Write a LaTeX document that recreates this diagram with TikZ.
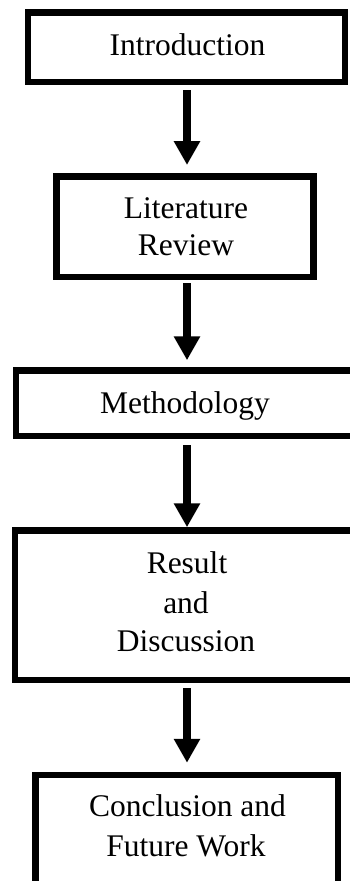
\documentclass[tikz,border=0pt]{standalone}
\usepackage{fontspec}
\setmainfont{Liberation Serif}
\usetikzlibrary{arrows.meta}
\begin{document}
\begin{tikzpicture}[x=1pt,y=1pt,
  box/.style={draw=black, line width=6.5pt, fill=none, inner sep=0pt, rectangle},
  lbl/.style={anchor=base, inner sep=0pt, font=\fontsize{31.5}{36}\selectfont},
  arr/.style={line width=8pt, -{Triangle[width=25pt,length=24pt]}}]
\useasboundingbox (0,0) rectangle (350,-881);
\clip (0,0) rectangle (350,-881);
\fill[white] (0,0) rectangle (350,-881);
% boxes
\node[box, minimum width=316.75pt, minimum height=69.5pt] (intro) at (186.6,-47) {};
\node[box, minimum width=257pt, minimum height=100.5pt] (lit) at (185,-226.5) {};
\node[box, minimum width=383.75pt, minimum height=65.5pt] (method) at (208.1,-403.25) {};
\node[box, minimum width=385pt, minimum height=149.5pt] (result) at (207.5,-605.25) {};
\node[box, minimum width=302.5pt, minimum height=175pt] (concl) at (186.5,-862.5) {};
% texts
\node[lbl] (introtext) at (187.5,-55) {Introduction};
\node[lbl] (littext1) at (186,-218) {Literature};
\node[lbl] (littext2) at (186,-255) {Review};
\node[lbl] (methodtext) at (185,-413.3) {Methodology};
\node[lbl] (restext1) at (187,-573) {Result};
\node[lbl] (restext2) at (186,-613) {and};
\node[lbl] (restext3) at (186,-651.7) {Discussion};
\node[lbl] (conctext1) at (187.5,-816) {Conclusion and};
\node[lbl] (conctext2) at (186,-856.7) {Future Work};
% arrows
\coordinate (ax) at (187,0);
\draw[arr, shorten <=5pt, shorten >=8pt] (ax |- intro.south) -- (ax |- lit.north);
\draw[arr, shorten <=3pt, shorten >=7pt] (ax |- lit.south) -- (ax |- method.north);
\draw[arr, shorten <=6pt, shorten >=0pt] (ax |- method.south) -- (ax |- result.north);
\draw[arr, shorten <=5pt, shorten >=9pt] (ax |- result.south) -- (ax |- concl.north);
\end{tikzpicture}
\end{document}
